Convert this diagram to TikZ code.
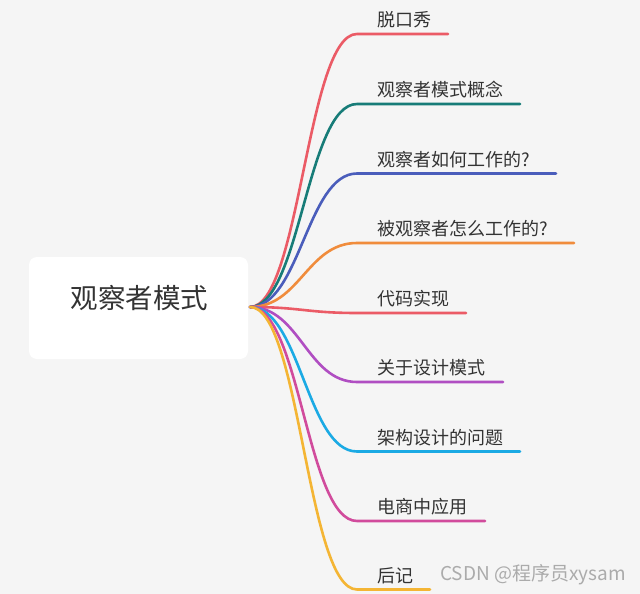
\documentclass[tikz,border=0pt]{standalone}
\usepackage{fontspec}
\usetikzlibrary{calc}
\setmainfont{Noto Sans CJK SC}
\definecolor{bg}{HTML}{F5F5F5}
\definecolor{txt}{HTML}{333333}
\definecolor{c1}{HTML}{EB5B66}
\definecolor{c2}{HTML}{177C78}
\definecolor{c3}{HTML}{4A5DBB}
\definecolor{c4}{HTML}{F08C3C}
\definecolor{c5}{HTML}{EB5B66}
\definecolor{c6}{HTML}{B04EC2}
\definecolor{c7}{HTML}{1BAAE4}
\definecolor{c8}{HTML}{D14B9C}
\definecolor{c9}{HTML}{F4B534}
\begin{document}
\begin{tikzpicture}[x=1pt,y=-1pt,
  branch/.style={line width=2.6pt,line cap=round},
  leaf/.style={anchor=west,inner sep=0pt,font=\fontsize{18}{18}\selectfont,text=txt},
  rootbox/.style={draw=none,fill=white,rounded corners=8pt,minimum width=219pt,minimum height=102pt},
  roottext/.style={inner sep=0pt,font=\fontsize{27.5}{27.5}\selectfont,text=txt}]
\fill[bg] (0,0) rectangle (640,594);
\useasboundingbox (0,0) rectangle (640,594);
\node[rootbox] (root) at (138.5,308) {};
\node[roottext] (roottxt) at (139.5,298) {观察者模式};
\coordinate (o) at (250,307);
\foreach \n/\y/\e/\c/\t in {
  1/34/448/c1/脱口秀,
  2/104/520/c2/观察者模式概念,
  3/173.5/556/c3/观察者如何工作的?,
  4/243/574/c4/被观察者怎么工作的?,
  5/313/466/c5/代码实现,
  6/382/503/c6/关于设计模式,
  7/451.5/520/c7/架构设计的问题,
  8/521/485/c8/电商中应用,
  9/589.5/430/c9/后记}{
  \coordinate (s\n) at (357,\y);
  \coordinate (e\n) at (\e,\y);
  \draw[branch,\c] (o) .. controls ($(o)+(50,0)$) and ($(s\n)+(-50,0)$) .. (s\n) -- (e\n);
  \node[leaf] (t\n) at (377,\y-14) {\t};
}
\node[anchor=west,inner sep=0pt,font=\fontsize{19}{19}\selectfont,text=black!33] (wm) at (440,575) {CSDN @程序员xysam};
\end{tikzpicture}
\end{document}
